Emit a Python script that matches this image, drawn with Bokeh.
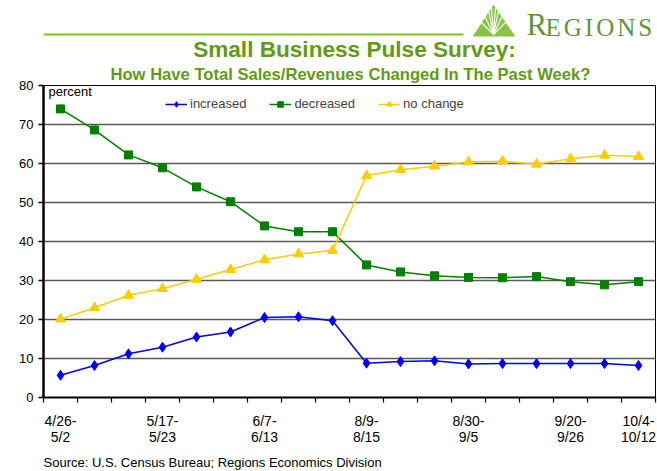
from bokeh.plotting import figure
from bokeh.layouts import column
from bokeh.models import Range1d, FixedTicker, Label, Legend, LegendItem, Title
from bokeh.core.properties import value
from bokeh.embed import file_html
from bokeh.resources import INLINE

# ---------------- data ----------------
weeks = ["4/26-5/2", "5/3-5/9", "5/10-5/16", "5/17-5/23", "5/24-5/30", "5/31-6/6",
         "6/7-6/13", "6/14-6/20", "6/21-6/27", "8/9-8/15", "8/16-8/22", "8/23-8/29",
         "8/30-9/5", "9/6-9/12", "9/13-9/19", "9/20-9/26", "9/27-10/3", "10/4-10/12"]
increased = [5.7, 8.2, 11.2, 12.9, 15.5, 16.8, 20.5, 20.7, 19.7, 8.8, 9.2, 9.4,
             8.6, 8.7, 8.7, 8.7, 8.7, 8.2]
decreased = [74.0, 68.6, 62.2, 58.9, 54.0, 50.2, 44.0, 42.5, 42.5, 34.0, 32.2, 31.2,
             30.8, 30.7, 31.0, 29.7, 28.9, 29.7]
no_change = [20.1, 23.0, 26.2, 27.9, 30.3, 32.8, 35.3, 36.8, 37.7, 56.9, 58.4, 59.3,
             60.4, 60.6, 59.8, 61.2, 62.1, 61.8]
labeled_weeks = [0, 3, 6, 9, 12, 15, 17]
y_ticks = [0, 10, 20, 30, 40, 50, 60, 70, 80]

title = "Small Business Pulse Survey:"
subtitle = "How Have Total Sales/Revenues Changed In The Past Week?"
source = "Source: U.S. Census Bureau; Regions Economics Division"

FONT = "Liberation Sans"
W = 657
HDR_H = 61
FTR_H = 23
FRAME_LEFT, FRAME_RIGHT = 43, 655
TITLE_GREEN = "#5f9b17"
LOGO_GREEN = "#5e9636"

# ---------------- header (logo, rule, title) ----------------
# the column aligns the frames, so the header frame spans FRAME_LEFT..FRAME_RIGHT
hdr = figure(width=W, height=HDR_H, output_backend="svg", toolbar_location=None,
             x_range=Range1d(FRAME_LEFT, FRAME_RIGHT), y_range=Range1d(HDR_H, 0),
             x_axis_location=None, y_axis_location=None, min_border=0)
hdr.outline_line_color = None
hdr.xgrid.visible = False
hdr.ygrid.visible = False
hdr.segment(x0=[FRAME_LEFT], y0=[34], x1=[463], y1=[34], line_color="#82c01e", line_width=2)
hdr.patch(x=[473, 493, 514], y=[35.5, 5, 35.5], fill_color="#86c443", line_color="#86c443")
for ex, ey in [(480, 21), (484, 15), (488, 10), (491, 7), (495, 7), (498, 10), (502, 15), (506, 21)]:
    hdr.segment(x0=[493], y0=[34], x1=[ex], y1=[ey], line_color="white", line_width=1.1)
hdr.text(x=[526], y=[35 - 0.34 * 31], text=["R"], text_font=value("Liberation Serif"),
         text_font_size="31px", text_color=LOGO_GREEN, text_baseline="middle")
letter_w = {"E": 0.611, "G": 0.722, "I": 0.333, "O": 0.722, "N": 0.722, "S": 0.556}
lx = 545.0
for ch in "EGIONS":
    hdr.text(x=[lx], y=[35 - 0.34 * 25], text=[ch], text_font=value("Liberation Serif"),
             text_font_size="25px", text_color=LOGO_GREEN, text_baseline="middle")
    lx += letter_w[ch] * 25 + 3.0
hdr.text(x=[354], y=[56.5 - 0.35 * 22.6], text=[title], text_font=value(FONT),
         text_font_size="22.6px", text_font_style="bold", text_color=TITLE_GREEN,
         text_align="center", text_baseline="middle")

# ---------------- main chart ----------------
FRAME_TOP, FRAME_BOTTOM, MAIN_BOTTOM = 85, 397, 471 - FTR_H
p = figure(width=W, height=MAIN_BOTTOM - HDR_H, output_backend="svg", toolbar_location=None,
           x_range=Range1d(-0.5, len(weeks) - 0.5), y_range=Range1d(0, 80),
           min_border_left=FRAME_LEFT, min_border_right=W - FRAME_RIGHT,
           min_border_top=FRAME_TOP - HDR_H, min_border_bottom=MAIN_BOTTOM - FRAME_BOTTOM)
p.outline_line_color = "black"
p.outline_line_width = 1
p.xgrid.visible = False
p.ygrid.ticker = FixedTicker(ticks=y_ticks)
p.ygrid.grid_line_color = "#5a5a5a"
p.ygrid.grid_line_width = 1.3

p.add_layout(Title(text=subtitle, align="left", offset=110 - FRAME_LEFT, standoff=3,
                   text_line_height=0.85,
                   text_font=FONT, text_font_size="16.6px", text_font_style="bold",
                   text_color=TITLE_GREEN), "above")

x = list(range(len(weeks)))
r1 = p.line(x, increased, line_color="#0000ff", line_width=1.5)
s1 = p.scatter(x, increased, marker="diamond", size=10, fill_color="#0000ff", line_color="#0000ff")
r2 = p.line(x, decreased, line_color="#008000", line_width=1.5)
s2 = p.scatter(x, decreased, marker="square", size=8, fill_color="#008000", line_color="#008000")
r3 = p.line(x, no_change, line_color="#ffcc00", line_width=1.5)
s3 = p.scatter(x, no_change, marker="triangle", size=10, fill_color="#ffcc00", line_color="#ffcc00")

legend = Legend(items=[LegendItem(label="increased", renderers=[r1, s1]),
                       LegendItem(label="decreased", renderers=[r2, s2]),
                       LegendItem(label="no change", renderers=[r3, s3])],
                orientation="horizontal", location=(122, 286), padding=0, margin=0,
                spacing=23, glyph_width=22, glyph_height=14, label_height=14,
                label_standoff=3, border_line_color=None, background_fill_alpha=0,
                label_text_font=FONT, label_text_font_size="13px")
p.add_layout(legend)

p.add_layout(Label(x=-0.5, y=78.5, x_offset=5, text="percent", text_font=FONT,
                   text_font_size="13px", text_baseline="middle", text_color="black"))

# y axis
p.yaxis.ticker = FixedTicker(ticks=y_ticks)
p.yaxis.axis_line_width = 2.5
p.yaxis.axis_line_color = "black"
p.yaxis.major_tick_out = 5
p.yaxis.major_tick_in = 0
p.yaxis.major_tick_line_width = 1.5
p.yaxis.minor_tick_line_color = None
p.yaxis.major_label_standoff = 5
p.yaxis.major_label_text_font = FONT
p.yaxis.major_label_text_font_size = "13px"
p.yaxis.major_label_text_color = "black"

# x axis
p.xaxis.ticker = FixedTicker(ticks=labeled_weeks,
                             minor_ticks=[i - 0.5 for i in range(len(weeks) + 1)])
p.xaxis.major_label_overrides = {i: weeks[i].replace("-", "-\n") for i in labeled_weeks}
p.xaxis.axis_line_width = 2
p.xaxis.axis_line_color = "black"
p.xaxis.major_tick_line_color = None
p.xaxis.minor_tick_out = 5
p.xaxis.minor_tick_in = 0
p.xaxis.minor_tick_line_color = "black"
p.xaxis.minor_tick_line_width = 1.2
p.xaxis.major_label_standoff = 9
p.xaxis.major_label_text_font = FONT
p.xaxis.major_label_text_font_size = "14px"
p.xaxis.major_label_text_color = "black"
p.xaxis.major_label_text_line_height = 1.0

# ---------------- footer (source) ----------------
ftr = figure(width=W, height=FTR_H, output_backend="svg", toolbar_location=None,
             x_range=Range1d(FRAME_LEFT, FRAME_RIGHT), y_range=Range1d(471, MAIN_BOTTOM),
             x_axis_location=None, y_axis_location=None, min_border=0)
ftr.outline_line_color = None
ftr.xgrid.visible = False
ftr.ygrid.visible = False
ftr.text(x=[FRAME_LEFT], y=[466.5 - 0.35 * 13], text=[source], text_font=value(FONT),
         text_font_size="13px", text_color="black", text_baseline="middle")

layout = column(hdr, p, ftr, spacing=0)
open("out.html", "w").write(file_html(layout, INLINE))
